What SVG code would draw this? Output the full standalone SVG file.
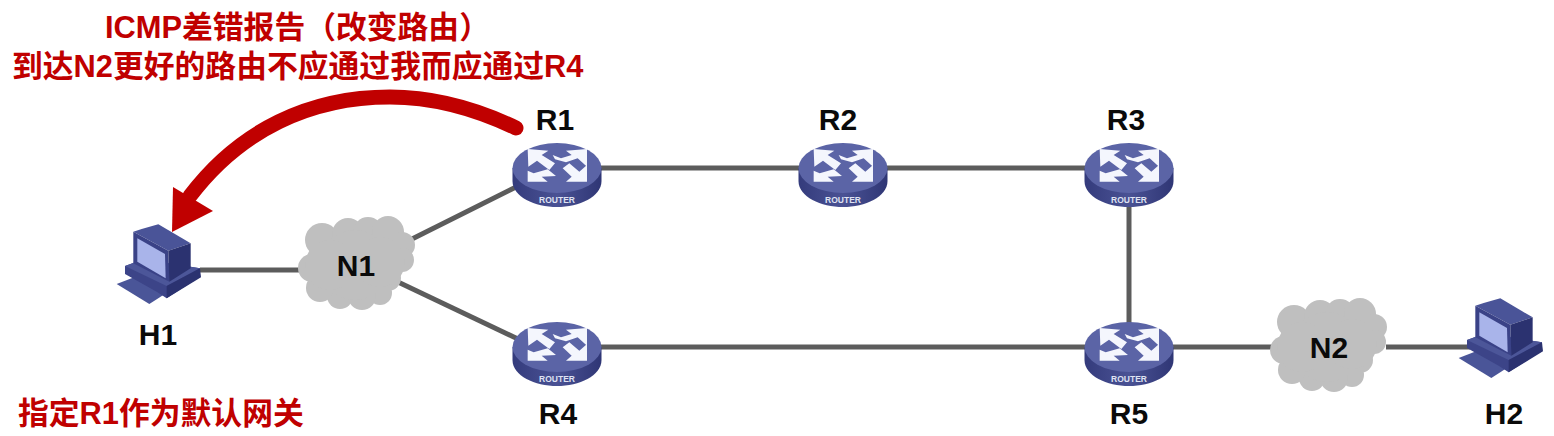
<svg xmlns="http://www.w3.org/2000/svg" width="1554" height="436" viewBox="0 0 1554 436">
<style>
text{font-family:"Liberation Sans","Noto Sans CJK SC",sans-serif;font-weight:700}
.lbl{font-size:30px;fill:#0a0a0a;text-anchor:middle}
.red{font-size:30.800px;fill:#c00000}
.link{stroke:#5c5c5c;stroke-width:5;fill:none}
.rt{font-size:8.500px;fill:#dfe2f2;text-anchor:middle}
</style>
<defs>
<linearGradient id="side" x1="0" x2="1" y1="0" y2="0"><stop offset="0" stop-color="#343b7c"/><stop offset="0.5" stop-color="#4a5294"/><stop offset="1" stop-color="#2f3675"/></linearGradient>
<g id="router">
<path d="M-44.500,3 V16 C-44.500,32 -22,42 0,42 C22,42 44.500,32 44.500,16 V3 Z" fill="url(#side)"/>
<ellipse cx="0" cy="3" rx="44.500" ry="25" fill="#5b64a6"/>
<g transform="scale(0.3333)" fill="#f4f6fd">
<polygon points="-88,-48 -26,-43 -46,-30 -6,-5 -23,15 -60,-13 -86,5"/>
<polygon points="90,-48 27,-43 44,-30 12,-20 -13,-30 -6,-17 27,-8 62,-20 90,5"/>
<polygon points="-88,50 -88,17 -70,25 -28,13 -3,33 -46,35 -28,50"/>
<polygon points="90,50 27,50 44,35 17,10 37,-5 67,20 90,0"/>
</g>
</g>
<g id="pc" transform="scale(0.3333)">
<polygon points="50,312 120,285 190,345 148,372" fill="#4a5598"/>
<polygon points="75,258 130,238 300,265 300,290 200,355 170,335 75,282" fill="#3c4488"/>
<polygon points="75,258 130,238 300,265 200,318" fill="#4c5699"/>
<polygon points="200,318 300,265 303,292 200,355" fill="#2b3270"/>
<polygon points="100,155 125,147 175,133 272,190 205,212" fill="#4a5498"/>
<polygon points="100,155 205,212 208,305 100,250" fill="#3a4287"/>
<polygon points="112,175 195,222 197,295 112,245" fill="#a9b4ea"/>
<polygon points="205,212 272,190 272,265 208,305" fill="#2b3270"/>
</g>
<g id="cloud" fill="#bfbfbf">
<circle cx="322" cy="240" r="17"/><circle cx="348" cy="234" r="16"/><circle cx="368" cy="232" r="15"/><circle cx="388" cy="232" r="16"/>
<circle cx="402" cy="245" r="13"/><circle cx="402" cy="260" r="12"/><circle cx="388" cy="278" r="13"/><circle cx="380" cy="293" r="12"/>
<circle cx="362" cy="296" r="14"/><circle cx="340" cy="296" r="13"/><circle cx="320" cy="288" r="14"/><circle cx="312" cy="268" r="14"/>
<circle cx="355" cy="265" r="35"/><circle cx="380" cy="262" r="25"/><circle cx="330" cy="265" r="25"/>
</g>
</defs>
<g id="connectors">
<line class="link" x1="200" y1="270" x2="304" y2="270"/>
<line class="link" x1="410" y1="240" x2="518" y2="186"/>
<line class="link" x1="398" y1="282" x2="518" y2="339"/>
<line class="link" x1="600" y1="168" x2="800" y2="168"/>
<line class="link" x1="886" y1="168" x2="1086" y2="168"/>
<line class="link" x1="1129" y1="205" x2="1129" y2="325"/>
<line class="link" x1="600" y1="347" x2="1086" y2="347"/>
<line class="link" x1="1172" y1="347" x2="1274" y2="347"/>
<line class="link" x1="1386" y1="347" x2="1470" y2="347"/>
</g>
<g id="R1"><use href="#router" x="557" y="165"/><text class="rt" x="557" y="203">ROUTER</text><text class="lbl" x="555" y="130">R1</text></g>
<g id="R2"><use href="#router" x="843" y="165"/><text class="rt" x="843" y="203">ROUTER</text><text class="lbl" x="838" y="130">R2</text></g>
<g id="R3"><use href="#router" x="1129" y="165"/><text class="rt" x="1129" y="203">ROUTER</text><text class="lbl" x="1126" y="130">R3</text></g>
<g id="R4"><use href="#router" x="557" y="344"/><text class="rt" x="557" y="382">ROUTER</text><text class="lbl" x="558" y="424">R4</text></g>
<g id="R5"><use href="#router" x="1129" y="344"/><text class="rt" x="1129" y="382">ROUTER</text><text class="lbl" x="1129" y="424">R5</text></g>
<g id="H1"><use href="#pc" transform="translate(100,180)"/><text class="lbl" x="158" y="345">H1</text></g>
<g id="H2"><use href="#pc" transform="translate(1442,254)"/><text class="lbl" x="1504" y="424">H2</text></g>
<g id="N1"><use href="#cloud"/><text class="lbl" x="356" y="276">N1</text></g>
<g id="N2"><use href="#cloud" transform="translate(972,82)"/><text class="lbl" x="1329" y="358">N2</text></g>
<g id="feedback">
<path d="M516,128 C470,106 430,97 390,97 C310,97 240,130 190,196" fill="none" stroke="#c00000" stroke-width="15" stroke-linecap="round"/>
<polygon points="172,232 173,187 213,211" fill="#c00000"/>
</g>
<g id="notes">
<text class="red" x="105" y="38">ICMP差错报告（改变路由）</text>
<text class="red" x="12" y="77">到达N2更好的路由不应通过我而应通过R4</text>
<text class="red" x="18" y="424">指定R1作为默认网关</text>
</g>
</svg>
